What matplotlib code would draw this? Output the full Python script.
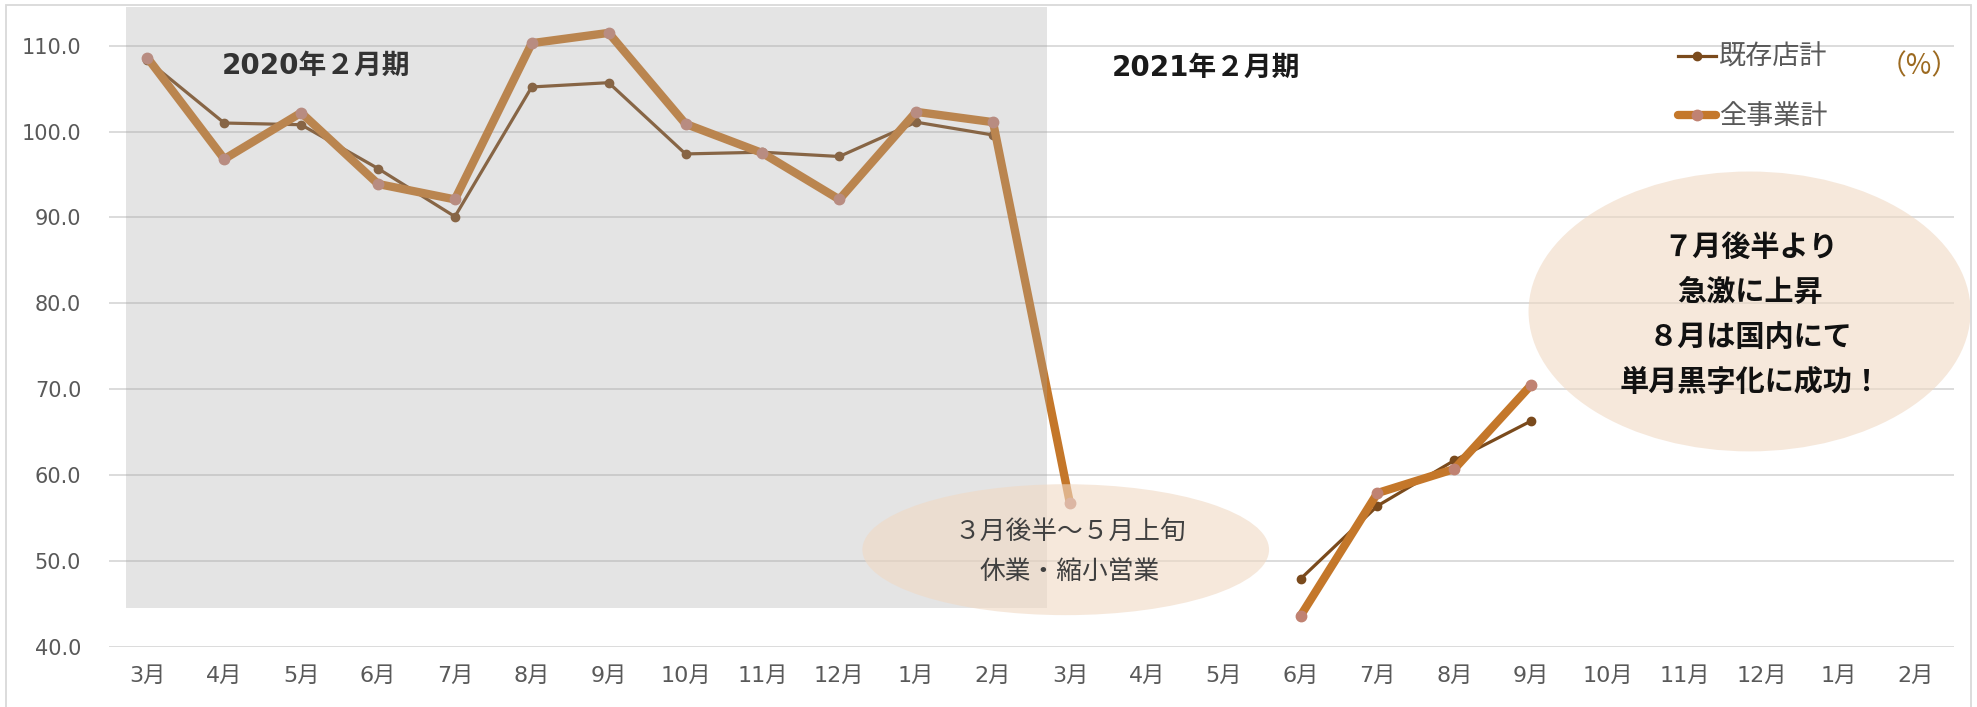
import numpy as np
import matplotlib
matplotlib.use('Agg')
import matplotlib.pyplot as pl
from matplotlib.patches import Ellipse, Rectangle

pl.rcParams['font.family'] = ['Noto Sans CJK JP', 'DejaVu Sans']

months = ['3月', '4月', '5月', '6月', '7月', '8月', '9月', '10月', '11月', '12月', '1月', '2月',
          '3月', '4月', '5月', '6月', '7月', '8月', '9月', '10月', '11月', '12月', '1月', '2月']

# 既存店計 (%)
existing = [108.3, 101.0, 100.8, 95.7, 90.1, 105.2, 105.7, 97.4, 97.6, 97.1, 101.1, 99.6,
            np.nan, np.nan, np.nan, 47.9, 56.4, 61.7, 66.3,
            np.nan, np.nan, np.nan, np.nan, np.nan]

# 全事業計 (%)
total = [108.6, 96.8, 102.2, 93.9, 92.1, 110.3, 111.5, 100.9, 97.5, 92.1, 102.3, 101.1,
         56.7, np.nan, np.nan, 43.6, 57.9, 60.7, 70.5,
         np.nan, np.nan, np.nan, np.nan, np.nan]

series_names = ['既存店計', '全事業計']
period_labels = ['2020年２月期', '2021年２月期']
note_left = ['３月後半～５月上旬', '休業・縮小営業']
note_right = ['７月後半より', '急激に上昇', '８月は国内にて', '単月黒字化に成功！']

dark = '#7a4a1c'
orange = '#c4772a'
grid_c = '#d9d9d9'
text_c = '#595959'
wide = ['DejaVu Sans', 'Noto Sans CJK JP']

fig = pl.figure(figsize=(19.77, 7.07), dpi=100)
ax = fig.add_axes([0.0551, 0.0853, 0.9333, 0.9107])

x = np.arange(len(months))
ax.plot(x, existing, color=dark, lw=2.3, marker='o', ms=6,
        mfc=dark, mec=dark, label=series_names[0], zorder=3)
ax.plot(x, total, color=orange, lw=6, marker='o', ms=7.5,
        mfc='#c08272', mec='#c08272', label=series_names[1], zorder=4,
        solid_capstyle='round')

ax.set_xlim(-0.5, len(months) - 0.5)
ax.set_ylim(40, 115)
ax.set_yticks(np.arange(40, 111, 10))
ax.set_yticklabels(['%.1f' % v for v in np.arange(40, 111, 10)])
ax.set_xticks(x)
ax.set_xticklabels(months)
ax.tick_params(axis='both', length=0, colors=text_c, labelsize=15)
ax.tick_params(axis='x', labelsize=16, pad=14)
ax.tick_params(axis='y', pad=20)
for lab in ax.get_xticklabels() + ax.get_yticklabels():
    lab.set_family(wide)
for s in ax.spines.values():
    s.set_visible(False)
ax.grid(axis='y', color=grid_c, lw=1.3)
ax.set_axisbelow(True)

# shaded previous fiscal year
ax.add_patch(Rectangle((-0.28, 44.45), 11.98, 70.05, facecolor='#a6a6a6',
                       alpha=0.3, lw=0, zorder=5))

# callout ellipses
ax.add_patch(Ellipse((11.945, 51.3), 5.29, 15.25, facecolor='#f0d9c4',
                     alpha=0.6, lw=0, zorder=6, clip_on=False))
ax.add_patch(Ellipse((20.84, 79.05), 5.75, 32.6, facecolor='#f0d9c4',
                     alpha=0.6, lw=0, zorder=6, clip_on=False))

ax.text(2.19, 107.6, period_labels[0], ha='center', va='center', fontsize=20,
        fontweight='bold', color='#333333', zorder=8, family=wide)
ax.text(13.77, 107.4, period_labels[1], ha='center', va='center', fontsize=20,
        fontweight='bold', color='#1a1a1a', zorder=8, family=wide)

for i, line in enumerate(note_left):
    ax.text(12.0, 53.4 - i * 4.7, line, ha='center', va='center', fontsize=18.5,
            color='#404040', zorder=8)
for i, line in enumerate(note_right):
    ax.text(20.85, 86.6 - i * 5.25, line, ha='center', va='center', fontsize=21,
            fontweight='bold', color='#111111', zorder=8)

leg = ax.legend(loc='upper left', bbox_to_anchor=(1678 / 1977, 1 - 44 / 707),
                bbox_transform=fig.transFigure, frameon=False, fontsize=19.5,
                handlelength=1.4, handletextpad=0.12, labelspacing=1.2,
                borderpad=0, borderaxespad=0)
for t in leg.get_texts():
    t.set_color(text_c)
fig.text(1919 / 1977, 1 - 66 / 707, '（%）', ha='center', va='center',
         fontsize=20, color='#9c6a20')

# chart area border
fig.add_artist(Rectangle((6 / 1977, -0.01), 1965 / 1977, 1.0 - 5 / 707 + 0.01,
                         transform=fig.transFigure, fill=False,
                         edgecolor=grid_c, lw=1.3))

fig.savefig('out.png', dpi=100)
